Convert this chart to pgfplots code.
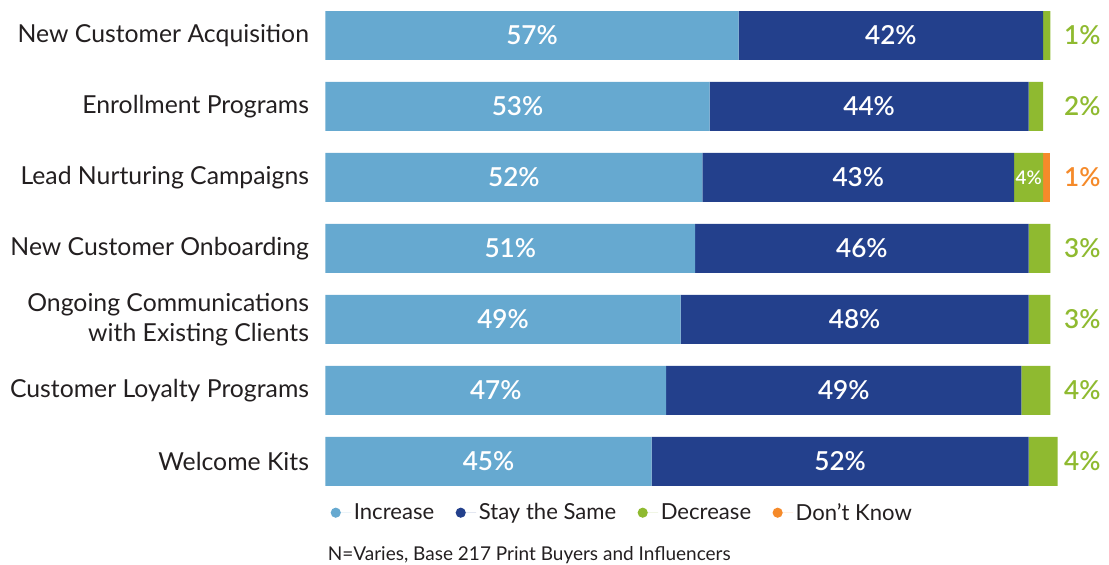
\documentclass[border=0pt]{standalone}
\usepackage{pgfplots}
\pgfplotsset{compat=1.18}
\usepackage{fontspec}
\setmainfont{Lato}
\newfontfamily\semib{Lato Semibold}
\definecolor{inc}{HTML}{66A9D0}
\definecolor{same}{HTML}{23408C}
\definecolor{dec}{HTML}{8FBA30}
\definecolor{dk}{HTML}{F58A2A}
\definecolor{txt}{HTML}{231F20}
\begin{document}
\begin{tikzpicture}
\pgfplotsset{common/.style={
  scale only axis, width=541.5pt, height=371pt,
  xmin=0, xmax=100, ymin=-0.5, ymax=6.5, y dir=reverse, clip=false}}
\begin{axis}[common,
  xbar stacked, bar width=0.69,
  axis line style={draw=none}, major tick length=0pt,
  xtick=\empty,
  ytick={0,...,6},
  yticklabels={New Customer Acquisition, Enrollment Programs, Lead Nurturing Campaigns, New Customer Onboarding, {Ongoing Communications\\with Existing Clients}, Customer Loyalty Programs, Welcome Kits},
  yticklabel style={align=right, font=\fontsize{18.5}{22.5}\selectfont, text=txt, inner sep=0pt, xshift=-12pt},
  legend style={at={(0.007,-0.032)}, anchor=west, draw=none, fill=none, legend columns=4,
    font=\fontsize{16.5}{18}\selectfont, text=txt, inner sep=0pt,
    /tikz/every even column/.append style={column sep=14pt}},
  legend image code/.code={\fill[#1] (7.5pt,0pt) circle (3.8pt); \path (3.7pt,0pt) -- (19pt,0pt);},
]
\addplot[fill=inc, draw=none] coordinates {(57,0) (53,1) (52,2) (51,3) (49,4) (47,5) (45,6)};
\addlegendentry{Increase}
\addplot[fill=same, draw=none] coordinates {(42,0) (44,1) (43,2) (46,3) (48,4) (49,5) (52,6)};
\addlegendentry{Stay the Same}
\addplot[fill=dec, draw=none] coordinates {(1,0) (2,1) (4,2) (3,3) (3,4) (4,5) (4,6)};
\addlegendentry{Decrease}
\addplot[fill=dk, draw=none] coordinates {(0,0) (0,1) (1,2) (0,3) (0,4) (0,5) (0,6)};
\addlegendentry{Don’t Know}
\node[anchor=west, font=\fontsize{14.2}{16}\selectfont, text=txt, inner sep=0pt] at (axis description cs:0.003,-0.118) {N=Varies, Base 217 Print Buyers and Influencers};
\end{axis}
\begin{axis}[common, hide axis]
\addplot[draw=none, mark=none, nodes near coords={\pgfplotspointmeta\%}, point meta=explicit symbolic,
  every node near coord/.append style={anchor=center, text=white, font=\semib\fontsize{19.5}{22}\selectfont}]
  coordinates {(28.5,0) [57] (26.5,1) [53] (26,2) [52] (25.5,3) [51] (24.5,4) [49] (23.5,5) [47] (22.5,6) [45]};
\addplot[draw=none, mark=none, nodes near coords={\pgfplotspointmeta\%}, point meta=explicit symbolic,
  every node near coord/.append style={anchor=center, text=white, font=\semib\fontsize{19.5}{22}\selectfont}]
  coordinates {(78,0) [42] (75,1) [44] (73.5,2) [43] (74,3) [46] (73,4) [48] (71.5,5) [49] (71,6) [52]};
\addplot[draw=none, mark=none, nodes near coords={\pgfplotspointmeta\%}, point meta=explicit symbolic,
  every node near coord/.append style={anchor=center, text=white, inner sep=0pt, font=\semib\fontsize{14}{15}\selectfont}]
  coordinates {(97,2) [4]};
\addplot[draw=none, mark=none, nodes near coords={\pgfplotspointmeta\%}, point meta=explicit symbolic,
  every node near coord/.append style={anchor=center, text=dec, font=\semib\fontsize{19.5}{22}\selectfont}]
  coordinates {(104.4,0) [1] (104.4,1) [2] (104.4,3) [3] (104.4,4) [3] (104.4,5) [4] (104.4,6) [4]};
\addplot[draw=none, mark=none, nodes near coords={\pgfplotspointmeta\%}, point meta=explicit symbolic,
  every node near coord/.append style={anchor=center, text=dk, font=\semib\fontsize{19.5}{22}\selectfont}]
  coordinates {(104.4,2) [1]};
\end{axis}
\path ([xshift=-7.5pt]current bounding box.west) ([xshift=3pt]current bounding box.east);
\end{tikzpicture}
\end{document}
